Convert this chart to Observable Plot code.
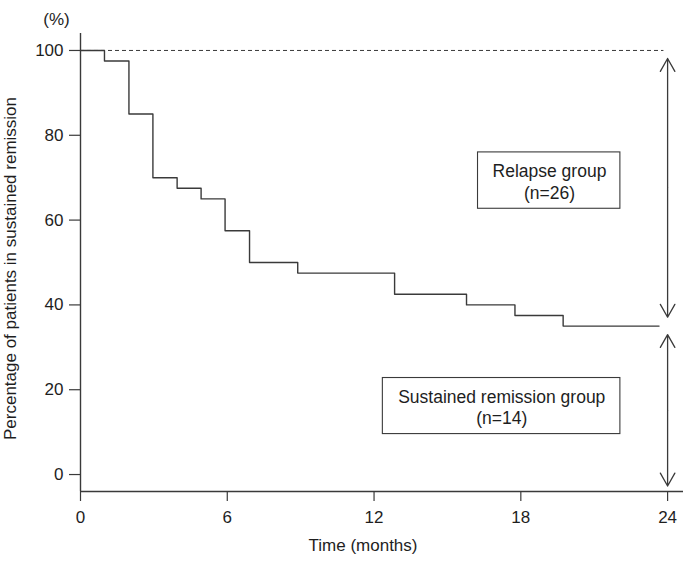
<!DOCTYPE html>
<html>
<head>
<meta charset="utf-8">
<script src="https://cdn.jsdelivr.net/npm/d3@7"></script>
<script src="https://cdn.jsdelivr.net/npm/@observablehq/plot@0.6"></script>
<style>
  html, body { margin: 0; padding: 0; background: white; }
</style>
</head>
<body>
<div id="chart"></div>
<script>
// Kaplan–Meier style step data (months, % in sustained remission)
const months   = [0, 0.98, 1.98, 2.96, 3.95, 4.93, 5.91, 6.91, 8.88, 12.84, 15.78, 17.76, 19.73, 23.65];
const survival = [100, 97.5, 85, 70, 67.5, 65, 57.5, 50, 47.5, 42.5, 40, 37.5, 35, 35];

const xTicks = [0, 6, 12, 18, 24];
const yTicks = [0, 20, 40, 60, 80, 100];

const groupLabels = ["Relapse group\n(n=26)", "Sustained remission group\n(n=14)"];
const groupBoxes = [
  {x1: 16.25, x2: 22.07, y1: 62.67, y2: 75.96, tx: 19.17, ty: 69.15},
  {x1: 12.36, x2: 22.07, y1: 9.54,  y2: 22.76, tx: 17.22, ty: 16.02}
];
// double-headed arrows spanning each group: [bottom tip, top tip]
const arrowSpans = [[37.1, 98.1], [-2.7, 33.0]];
const arrowX = 24;

const curve = months.map((m, i) => ({m, s: survival[i]}));
const boxes = groupBoxes.map((b, i) => ({...b, label: groupLabels[i]}));
const arrows = [];
arrowSpans.forEach(([lo, hi]) => {
  const mid = (lo + hi) / 2;
  arrows.push({x: arrowX, y1: mid, y2: hi});
  arrows.push({x: arrowX, y1: mid, y2: lo});
});

const ink = "#3a3a3a";
const txt = "#1e1e1e";
const font = "'Liberation Sans', Arial, sans-serif";

const chart = Plot.plot({
  width: 685,
  height: 561,
  marginLeft: 80,
  marginRight: 2,
  marginTop: 33,
  marginBottom: 70,
  x: {domain: [0, 24.65], axis: null},
  y: {domain: [-4, 104], axis: null},
  style: {fontFamily: font, fontSize: "17px", color: txt, background: "white"},
  marks: [
    // axis lines
    Plot.ruleX([0], {y1: -4, y2: 104, stroke: ink, strokeWidth: 1.4}),
    Plot.ruleY([-4], {stroke: ink, strokeWidth: 1.4}),
    // x ticks + labels (tick length ~10px below the axis)
    Plot.ruleX(xTicks, {x: d => d, y1: -4, y2: -6.36, stroke: ink, strokeWidth: 1.2}),
    Plot.text(xTicks, {x: d => d, y: -4, dy: 26, text: d => String(d), fontSize: 17, fill: txt}),
    // y ticks + labels (tick length ~11px left of the axis)
    Plot.ruleY(yTicks, {y: d => d, x1: 0, x2: -0.45, stroke: ink, strokeWidth: 1.2}),
    Plot.text(yTicks, {y: d => d, x: 0, dx: -17, text: d => String(d), textAnchor: "end", fontSize: 17, fill: txt}),
    // reference dashed line at 100%
    Plot.ruleY([100], {x1: 0, x2: 23.85, stroke: ink, strokeDasharray: "4,3", strokeWidth: 1}),
    // step curve
    Plot.line(curve, {x: "m", y: "s", curve: "step-after", stroke: ink, strokeWidth: 1.4}),
    // arrows
    Plot.arrow(arrows, {x1: "x", x2: "x", y1: "y1", y2: "y2", stroke: ink, strokeWidth: 1.3, headLength: 17, headAngle: 59}),
    // group boxes
    Plot.rect(boxes, {x1: "x1", x2: "x2", y1: "y1", y2: "y2", fill: "white", stroke: ink, strokeWidth: 1.1}),
    Plot.text(boxes, {x: "tx", y: "ty", text: "label", fontSize: 17.5, lineHeight: 1.24, fill: txt}),
    // labels
    Plot.text(["(%)"], {frameAnchor: "top-left", textAnchor: "middle", dx: -24, dy: -21, fontSize: 17, fill: txt}),
    Plot.text(["Time (months)"], {frameAnchor: "bottom", dx: -19, dy: 59, fontSize: 17, fill: txt}),
    Plot.text(["Percentage of patients in sustained remission"], {frameAnchor: "left", textAnchor: "middle", dx: -70, dy: 6, rotate: -90, fontSize: 17, fill: txt})
  ]
});
document.getElementById("chart").appendChild(chart);
</script>
</body>
</html>
